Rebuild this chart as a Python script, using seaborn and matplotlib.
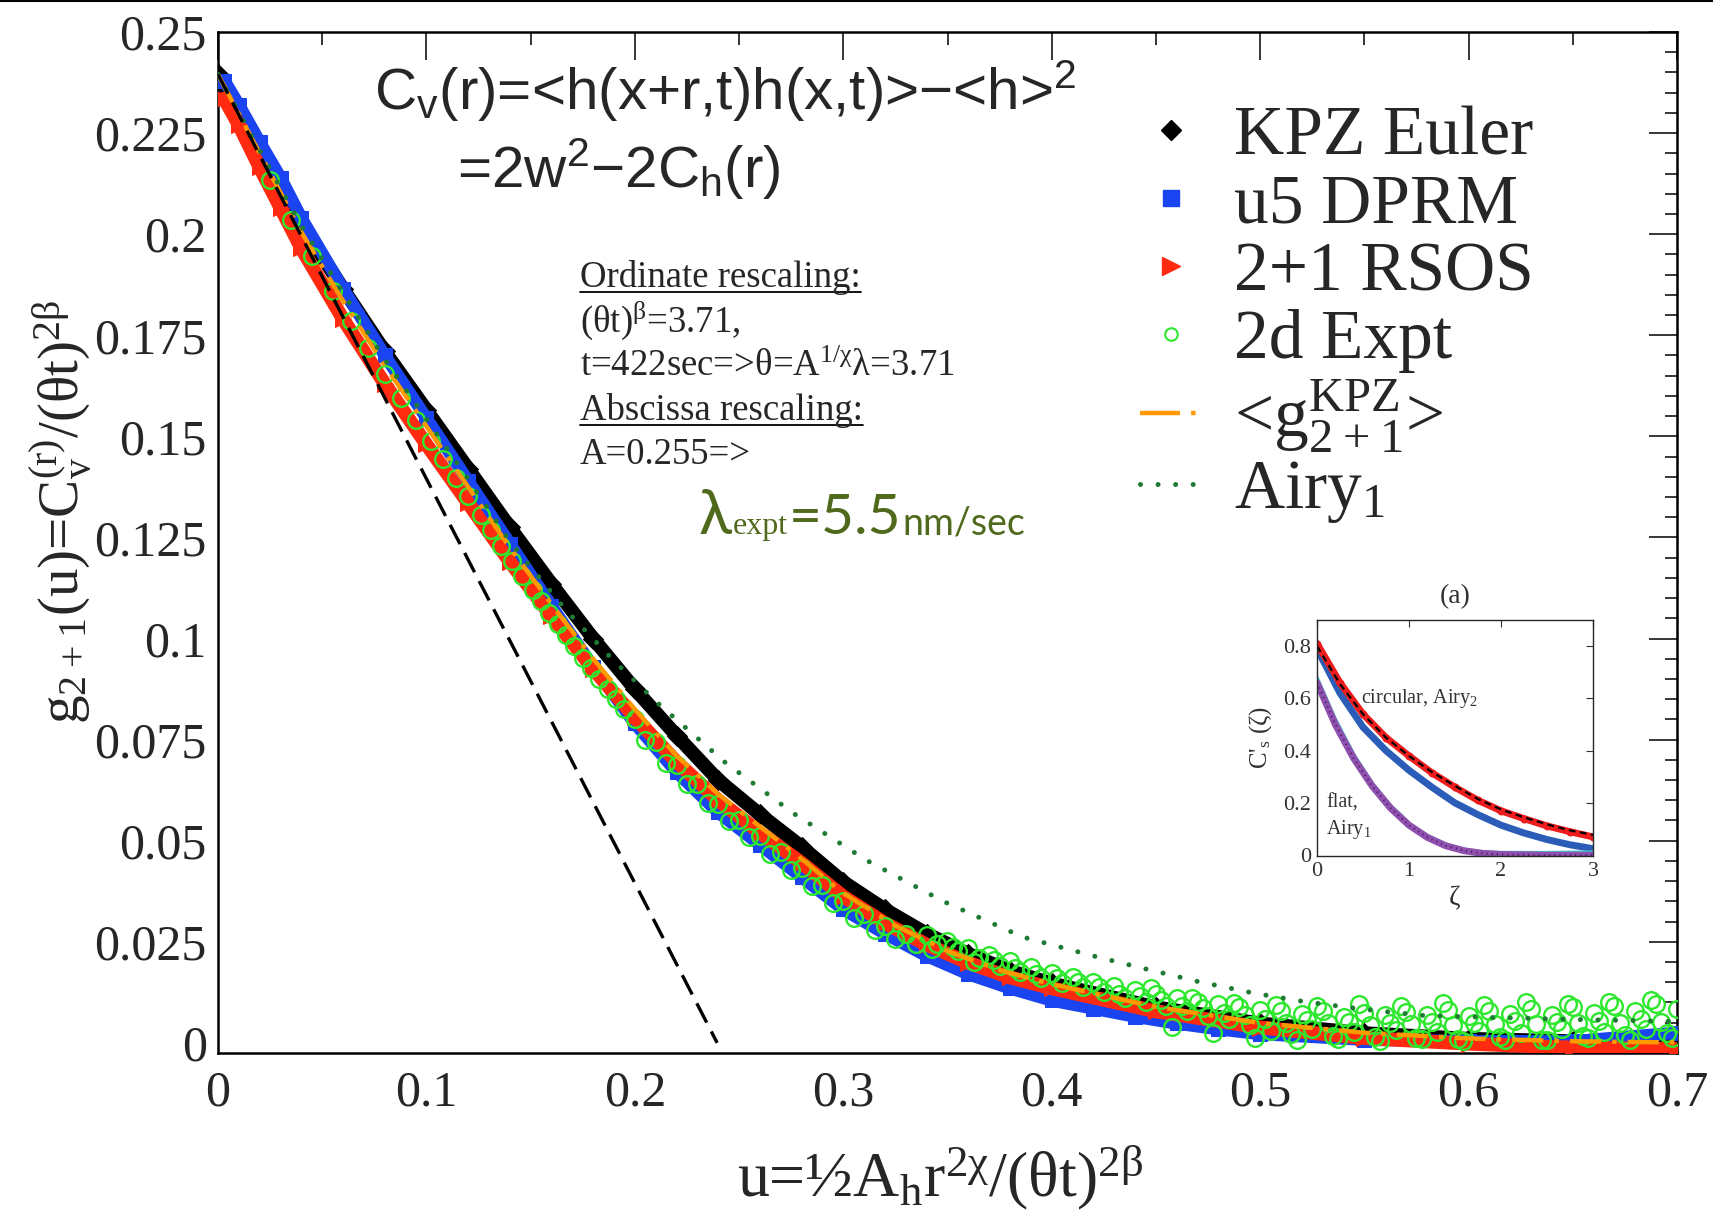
import matplotlib
matplotlib.use('Agg')
import matplotlib.pyplot as plt
from matplotlib.lines import Line2D
from matplotlib.ticker import MultipleLocator
import seaborn as sns

# ---------------- main panel data ----------------
u_kpz = [0.0, 0.02, 0.04, 0.06, 0.08, 0.10, 0.12, 0.14, 0.16, 0.18, 0.20, 0.22, 0.24,
         0.26, 0.28, 0.30, 0.32, 0.34, 0.36, 0.38, 0.40, 0.45, 0.50, 0.55, 0.60, 0.65, 0.70]
g_kpz = [0.2395, 0.2205, 0.2025, 0.1865, 0.1710, 0.1565, 0.1420, 0.1275, 0.1135, 0.1000,
         0.0875, 0.0760, 0.0650, 0.0565, 0.0485, 0.0398, 0.0330, 0.0270, 0.0220, 0.0178,
         0.0147, 0.0088, 0.0048, 0.0024, 0.0010, 0.0004, 0.0001]

u_dprm = [0.003, 0.01, 0.02, 0.03, 0.04, 0.06, 0.08, 0.10, 0.12, 0.14, 0.16, 0.18, 0.20,
          0.22, 0.24, 0.26, 0.28, 0.30, 0.32, 0.34, 0.36, 0.38, 0.40, 0.42, 0.44, 0.46,
          0.48, 0.50, 0.55, 0.60, 0.65, 0.70]
g_dprm = [0.2380, 0.2320, 0.2228, 0.2140, 0.2040, 0.1865, 0.1700, 0.1545, 0.1390, 0.1235,
          0.1080, 0.0930, 0.0790, 0.0670, 0.0570, 0.0490, 0.0410, 0.0330, 0.0270, 0.0215,
          0.0170, 0.0135, 0.0105, 0.0085, 0.0065, 0.0048, 0.0034, 0.0022, 0.0008, 0.0004,
          0.0004, 0.0025]

u_rsos = [0.003, 0.01, 0.02, 0.03, 0.04, 0.06, 0.08, 0.10, 0.12, 0.14, 0.16, 0.18, 0.20,
          0.22, 0.24, 0.26, 0.28, 0.30, 0.32, 0.34, 0.36, 0.38, 0.40, 0.45, 0.50, 0.55,
          0.60, 0.65, 0.70]
g_rsos = [0.2335, 0.2270, 0.2165, 0.2065, 0.1965, 0.1790, 0.1630, 0.1480, 0.1335, 0.1190,
          0.1055, 0.0925, 0.0805, 0.0695, 0.0600, 0.0520, 0.0445, 0.0362, 0.0296, 0.0243,
          0.0198, 0.0162, 0.0135, 0.0078, 0.0038, 0.0012, -0.0002, -0.0012, -0.0015]

u_expt = [0.025, 0.035, 0.045, 0.055, 0.064, 0.072, 0.080, 0.088, 0.095, 0.102, 0.108,
          0.114, 0.120, 0.126, 0.131, 0.136, 0.141, 0.146, 0.151, 0.155, 0.159, 0.163,
          0.167, 0.171, 0.175, 0.179, 0.183, 0.187, 0.191, 0.195,
          0.200, 0.205, 0.210, 0.215, 0.220, 0.225, 0.230, 0.235, 0.240, 0.245, 0.250,
          0.255, 0.260, 0.265, 0.270, 0.275, 0.280, 0.285, 0.290, 0.295, 0.300, 0.305,
          0.310, 0.315, 0.320, 0.325, 0.330, 0.335, 0.340, 0.345, 0.350, 0.355, 0.360,
          0.365, 0.370, 0.375, 0.380, 0.385, 0.390, 0.395, 0.400, 0.405, 0.410, 0.415,
          0.420, 0.425, 0.430, 0.435, 0.440, 0.445, 0.450, 0.455, 0.460, 0.465, 0.470,
          0.475, 0.480, 0.485, 0.490, 0.495, 0.500, 0.505, 0.510, 0.515, 0.520, 0.525,
          0.530, 0.535, 0.540, 0.545, 0.550, 0.555, 0.560, 0.565, 0.570, 0.575, 0.580,
          0.585, 0.590, 0.595, 0.600, 0.605, 0.610, 0.615, 0.620, 0.625, 0.630, 0.635,
          0.640, 0.645, 0.650, 0.655, 0.660, 0.665, 0.670, 0.675, 0.680, 0.685, 0.690,
          0.695, 0.700,
          0.3425, 0.3525, 0.3625, 0.3725, 0.3825, 0.3925, 0.4025, 0.4125, 0.4225, 0.4325,
          0.4425, 0.4525, 0.4625, 0.4725, 0.4825, 0.4925, 0.5025, 0.5125, 0.5225, 0.5325,
          0.5425, 0.5525, 0.5625, 0.5725, 0.5825, 0.5925, 0.6025, 0.6125, 0.6225, 0.6325,
          0.6425, 0.6525, 0.6625, 0.6725, 0.6825, 0.6925,
          0.4475, 0.4575, 0.4675, 0.4775, 0.4875, 0.4975, 0.5075, 0.5175, 0.5275, 0.5375,
          0.5475, 0.5575, 0.5675, 0.5775, 0.5875, 0.5975, 0.6075, 0.6175, 0.6275, 0.6375,
          0.6475, 0.6575, 0.6675, 0.6775, 0.6875, 0.6975]
g_expt = [0.2135, 0.2035, 0.1945, 0.1860, 0.1785, 0.1718, 0.1655, 0.1595, 0.1540, 0.1488,
          0.1443, 0.1398, 0.1352, 0.1305, 0.1268, 0.1228, 0.1192, 0.1155, 0.1120, 0.1092,
          0.1063, 0.1035, 0.1008, 0.0981, 0.0953, 0.0926, 0.0900, 0.0875, 0.0850, 0.0825,
          0.0802, 0.0750, 0.0745, 0.0693, 0.0687, 0.0640, 0.0640, 0.0593, 0.0592, 0.0548,
          0.0552, 0.0508, 0.0512, 0.0468, 0.0472, 0.0428, 0.0432, 0.0387, 0.0390, 0.0345,
          0.0350, 0.0310, 0.0318, 0.0280, 0.0290, 0.0258, 0.0270, 0.0245, 0.0268, 0.0245,
          0.0252, 0.0228, 0.0235, 0.0210, 0.0218, 0.0190, 0.0202, 0.0176, 0.0188, 0.0160,
          0.0172, 0.0148, 0.0163, 0.0138, 0.0150, 0.0125, 0.0140, 0.0112, 0.0131, 0.0100,
          0.0122, 0.0090, 0.0110, 0.0078, 0.0102, 0.0066, 0.0095, 0.0058, 0.0088, 0.0045,
          0.0082, 0.0030, 0.0078, 0.0022, 0.0071, 0.0035, 0.0080, 0.0018, 0.0065, 0.0028,
          0.0074, 0.0015, 0.0068, 0.0032, 0.0077, 0.0012, 0.0070, 0.0026, 0.0082, 0.0010,
          0.0066, 0.0030, 0.0079, 0.0014, 0.0072, 0.0024, 0.0085, 0.0008, 0.0070, 0.0034,
          0.0088, 0.0016, 0.0074, 0.0028, 0.0090, 0.0020, 0.0080, 0.0035, 0.0095, 0.0025,
          0.0085,
          0.0232, 0.0236, 0.0200, 0.0205, 0.0185, 0.0170, 0.0160, 0.0150, 0.0138, 0.0122,
          0.0115, 0.0105, 0.0092, 0.0086, 0.0075, 0.0068, 0.0058, 0.0050, 0.0056, 0.0048,
          0.0052, 0.0045, 0.0050, 0.0046, 0.0052, 0.0044, 0.0050, 0.0047, 0.0053, 0.0046,
          0.0052, 0.0049, 0.0055, 0.0050, 0.0058, 0.0052,
          0.0135, 0.0040, 0.0112, 0.0025, 0.0098, 0.0012, 0.0094, 0.0006, 0.0092, 0.0009,
          0.0096, 0.0004, 0.0090, 0.0010, 0.0098, 0.0005, 0.0093, 0.0008, 0.0100, 0.0006,
          0.0097, 0.0011, 0.0102, 0.0007, 0.0105, 0.0012]

u_mean = [0.0, 0.02, 0.04, 0.06, 0.08, 0.10, 0.12, 0.14, 0.16, 0.18, 0.20, 0.22, 0.24,
          0.26, 0.28, 0.30, 0.325, 0.35, 0.375, 0.40, 0.45, 0.50, 0.55, 0.60, 0.65, 0.70]
g_mean = [0.2395, 0.2200, 0.2005, 0.1835, 0.1675, 0.1525, 0.1375, 0.1225, 0.1085, 0.0950,
          0.0825, 0.0710, 0.0615, 0.0535, 0.0455, 0.0370, 0.0290, 0.0227, 0.0180, 0.0145,
          0.0089, 0.0049, 0.0025, 0.0011, 0.0004, 0.0001]

u_airy1 = [0.0, 0.04, 0.08, 0.12, 0.14, 0.167, 0.189, 0.211, 0.243, 0.276, 0.311, 0.348,
           0.386, 0.420, 0.445, 0.470, 0.497, 0.520, 0.548, 0.578, 0.610, 0.650, 0.700]
g_airy1 = [0.2395, 0.2020, 0.1690, 0.1395, 0.1240, 0.1070, 0.0950, 0.0840, 0.0695, 0.0568,
           0.0452, 0.0350, 0.0262, 0.0215, 0.0183, 0.0152, 0.0123, 0.0103, 0.0084, 0.0068,
           0.0063, 0.0058, 0.0053]

u_tangent = [0.0, 0.2395]
g_tangent = [0.2395, 0.0]

# ---------------- inset data ----------------
z_circ = [0, 0.25, 0.5, 0.75, 1.0, 1.25, 1.5, 1.75, 2.0, 2.25, 2.5, 2.75, 3.0]
c_circ_red = [0.81, 0.66, 0.54, 0.45, 0.38, 0.315, 0.26, 0.21, 0.17, 0.14, 0.112, 0.09, 0.07]
c_circ_blue = [0.79, 0.62, 0.49, 0.40, 0.325, 0.26, 0.20, 0.155, 0.115, 0.085, 0.06, 0.04, 0.025]
c_airy2 = [0.80, 0.655, 0.54, 0.45, 0.38, 0.318, 0.265, 0.215, 0.175, 0.145, 0.118, 0.095, 0.078]
z_flat = [0, 0.2, 0.4, 0.6, 0.8, 1.0, 1.2, 1.4, 1.6, 1.8, 2.0, 2.5, 3.0]
c_flat_purple = [0.66, 0.50, 0.37, 0.265, 0.18, 0.115, 0.068, 0.036, 0.017, 0.007, 0.003, 0.0, 0.0]
c_flat_cyan = [0.68, 0.52, 0.385, 0.275, 0.19, 0.122, 0.075, 0.042, 0.022, 0.013, 0.010, 0.010, 0.012]

x_ticks = [0, 0.1, 0.2, 0.3, 0.4, 0.5, 0.6, 0.7]
x_ticklabels = ['0', '0.1', '0.2', '0.3', '0.4', '0.5', '0.6', '0.7']
y_ticks = [0, 0.025, 0.05, 0.075, 0.1, 0.125, 0.15, 0.175, 0.2, 0.225, 0.25]
y_ticklabels = ['0', '0.025', '0.05', '0.075', '0.1', '0.125', '0.15', '0.175', '0.2', '0.225', '0.25']

BLACK = '#000000'
BLUE = '#1a44f0'
RED = '#ff2a10'
GREEN = '#2ee82e'
ORANGE = '#ff9900'
DKGREEN = '#1f7a34'
OLIVE = '#4f6a1c'

sns.set_style('white')
plt.rcParams['font.family'] = ['Liberation Serif', 'DejaVu Serif']
plt.rcParams['mathtext.default'] = 'regular'

W, H = 1713, 1215
fig = plt.figure(figsize=(W / 100, H / 100), dpi=100)


def fx(px):
    return px / W


def fy(py):
    return 1 - py / H


ax = fig.add_axes([fx(218), fy(1053), fx(1677 - 218), (1053 - 32) / H])

sns.lineplot(x=u_kpz, y=g_kpz, ax=ax, color=BLACK, lw=10, marker='D', ms=10,
             markeredgecolor=BLACK, estimator=None, sort=False, zorder=2)
sns.lineplot(x=u_dprm, y=g_dprm, ax=ax, color=BLUE, lw=9, marker='s', ms=10,
             markeredgecolor=BLUE, estimator=None, sort=False, zorder=3)
sns.lineplot(x=u_rsos, y=g_rsos, ax=ax, color=RED, lw=10, marker='>', ms=12,
             markeredgecolor=RED, estimator=None, sort=False, zorder=4)
sns.lineplot(x=u_expt, y=g_expt, ax=ax, color=GREEN, linestyle='none', marker='o', ms=12,
             markerfacecolor='none', markeredgecolor=GREEN, markeredgewidth=1.7,
             estimator=None, sort=False, zorder=5)
sns.lineplot(x=u_mean, y=g_mean, ax=ax, color=ORANGE, lw=3.2,
             estimator=None, sort=False, zorder=6).lines[-1].set_dashes((7, 2.5, 1, 2.5))
airy = sns.lineplot(x=u_airy1, y=g_airy1, ax=ax, color=DKGREEN, lw=3.6,
                    estimator=None, sort=False, zorder=7).lines[-1]
airy.set_dashes((0.01, 3.5))
airy.set_dash_capstyle('round')
sns.lineplot(x=u_tangent, y=g_tangent, ax=ax, color=BLACK, lw=2.4,
             estimator=None, sort=False, zorder=7).lines[-1].set_dashes((6.5, 3))

ax.set_xlim(0, 0.7)
ax.set_ylim(-0.0025, 0.25)
ax.set_xticks(x_ticks)
ax.set_xticklabels(x_ticklabels)
ax.set_yticks(y_ticks)
ax.set_yticklabels(y_ticklabels)
ax.xaxis.set_minor_locator(MultipleLocator(0.05))
ax.yaxis.set_minor_locator(MultipleLocator(0.005))
ax.tick_params(which='both', direction='in', top=True, right=True, color='k')
ax.tick_params(which='major', length=20, width=1.1, labelsize=36)
ax.tick_params(which='minor', length=9, width=1.1)
ax.tick_params(axis='x', which='major', pad=12)
ax.tick_params(axis='y', which='major', pad=8)
for s in ax.spines.values():
    s.set_linewidth(1.8)
    s.set_color('k')

ax.set_xlabel('u=½A$_h$r$^{2χ}$/(θt)$^{2β}$', fontsize=46)
ax.xaxis.set_label_coords(0.495, -0.122)
ax.xaxis.label.set_va('center')
ax.set_ylabel('g$_{2+1}$(u)=C$_v^{(r)}$/(θt)$^{2β}$', fontsize=41)
ax.yaxis.set_label_coords(-0.108, 0.53)
ax.yaxis.label.set_va('center')

# legend
handles = [
    Line2D([], [], ls='none', marker='D', color=BLACK, ms=10),
    Line2D([], [], ls='none', marker='s', color=BLUE, ms=11),
    Line2D([], [], ls='none', marker='>', color=RED, ms=13),
    Line2D([], [], ls='none', marker='o', mfc='none', mec=GREEN, mew=1.5, ms=9),
    Line2D([], [], color=ORANGE, lw=3.2, dashes=(9, 2.5, 1, 2.5)),
    Line2D([], [], color=DKGREEN, lw=3.6, dashes=(0.01, 3.5), dash_capstyle='round'),
]
labels = ['KPZ Euler', 'u5 DPRM', '2+1 RSOS', '2d Expt', r'<$g^{KPZ}_{2+1}$>', r'Airy$_1$']
fig.legend(handles, labels, loc='upper left', bbox_to_anchor=(fx(1140), fy(106)),
           frameon=False, fontsize=50, borderpad=0, borderaxespad=0, labelspacing=0.06,
           handlelength=0.9, handletextpad=0.45)

# formula (sans)
sans = ['Liberation Sans', 'DejaVu Sans']
fig.text(fx(374), fy(110), 'C$_v$(r)=<h(x+r,t)h(x,t)>−<h>$^2$', fontsize=42,
         family=sans, va='baseline', ha='left')
fig.text(fx(457), fy(188), '=2w$^2$−2C$_h$(r)', fontsize=42, family=sans,
         va='baseline', ha='left')

# rescaling notes (serif)
note_lines = [
    ('Ordinate rescaling:', 287, True),
    ('(θt)$^β$=3.71,', 332, False),
    ('t=422sec=>θ=A$^{1/χ}$λ=3.71', 376, False),
    ('Abscissa rescaling:', 420, True),
    ('A=0.255=>', 464, False),
]
note_texts = []
for txt, base, under in note_lines:
    t = fig.text(fx(580), fy(base), txt, fontsize=26.5, va='baseline', ha='left')
    note_texts.append((t, base, under))

fig.canvas.draw()
renderer = fig.canvas.get_renderer()
for t, base, under in note_texts:
    if under:
        bb = t.get_window_extent(renderer)
        fig.add_artist(Line2D([bb.x0 / W, bb.x1 / W], [fy(base + 5)] * 2,
                              color='k', lw=1.3, transform=fig.transFigure))

# green lambda annotation, pieces chained left to right
pieces = [
    ('λ', 44, ['Lato', 'DejaVu Sans']),
    ('expt', 23, ['Liberation Serif']),
    ('=5.5', 41, ['Lato', 'DejaVu Sans']),
    ('nm/sec', 27, ['Lato', 'DejaVu Sans']),
]
xpos = 699
for txt, size, fam in pieces:
    t = fig.text(fx(xpos), fy(534), txt, fontsize=size, family=fam, color=OLIVE,
                 va='baseline', ha='left')
    fig.canvas.draw()
    xpos = t.get_window_extent(renderer).x1 + 1

# ---------------- inset ----------------
axi = fig.add_axes([fx(1317), fy(856), fx(1593 - 1317), (856 - 620) / H])
sns.lineplot(x=z_circ, y=c_circ_blue, ax=axi, color='#2a5cb8', lw=5, estimator=None, sort=False)
sns.lineplot(x=z_circ, y=c_circ_red, ax=axi, color='#ee1c1c', lw=5, marker='o', ms=5,
             markeredgecolor='#ee1c1c', estimator=None, sort=False)
sns.lineplot(x=z_circ, y=c_airy2, ax=axi, color='k', lw=1.6, estimator=None,
             sort=False).lines[-1].set_dashes((3, 2))
sns.lineplot(x=z_flat, y=c_flat_cyan, ax=axi, color='#40c8c8', lw=2.5, estimator=None, sort=False)
sns.lineplot(x=z_flat, y=c_flat_purple, ax=axi, color='#9050b0', lw=5, estimator=None, sort=False)
sns.lineplot(x=z_flat, y=c_flat_purple, ax=axi, color='#3a1a50', lw=1.5, estimator=None,
             sort=False).lines[-1].set_dashes((0.5, 2))
axi.set_xlim(0, 3.0)
axi.set_ylim(-0.003, 0.9)
axi.set_xticks([0, 1, 2, 3])
axi.set_xticklabels(['0', '1', '2', '3'])
axi.set_yticks([0, 0.2, 0.4, 0.6, 0.8])
axi.set_yticklabels(['0', '0.2', '0.4', '0.6', '0.8'])
axi.tick_params(direction='in', top=True, right=True, length=5, width=0.8, labelsize=16,
                colors='#333333', pad=4)
for s in axi.spines.values():
    s.set_linewidth(1.0)
axi.set_xlabel('ζ', fontsize=20, color='#333333', labelpad=4)
axi.set_ylabel("C$'_s$ (ζ)", fontsize=18, color='#333333', labelpad=7)
axi.set_title('(a)', fontsize=20, color='#333333', pad=12)
axi.text(0.48, 0.6, 'circular, Airy$_2$', fontsize=14.5, color='#333333', va='center')
axi.text(0.1, 0.2, 'flat,', fontsize=14.5, color='#333333', va='center')
axi.text(0.1, 0.1, 'Airy$_1$', fontsize=14.5, color='#333333', va='center')

# thin border line at very top of the picture
fig.add_artist(Line2D([0, 1], [0.999, 0.999], color='k', lw=1.5, transform=fig.transFigure))

fig.savefig('out.png', dpi=100)
